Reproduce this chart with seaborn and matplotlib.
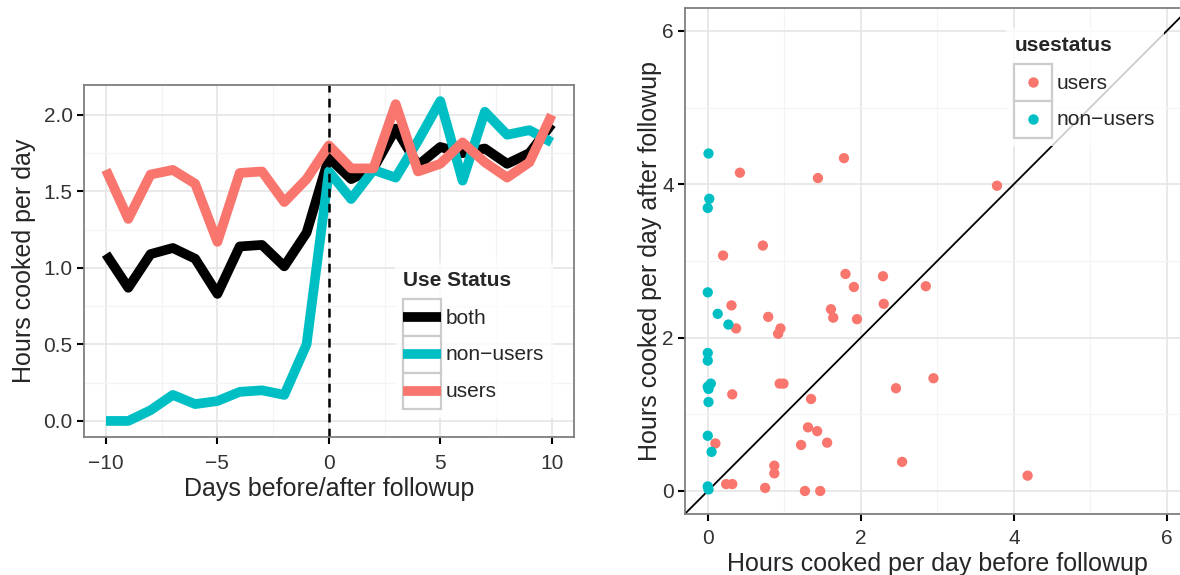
import matplotlib
matplotlib.use('Agg')
import matplotlib.pyplot as plt
import numpy as np
import pandas as pd
import seaborn as sns
from matplotlib.lines import Line2D
from matplotlib.patches import Rectangle
from matplotlib.legend_handler import HandlerLine2D
from matplotlib.ticker import MultipleLocator, FormatStrFormatter

# left panel: mean hours cooked per day around the followup visit
days = [-10, -9, -8, -7, -6, -5, -4, -3, -2, -1, 0, 1, 2, 3, 4, 5, 6, 7, 8, 9, 10]
both = [1.09, 0.87, 1.09, 1.13, 1.06, 0.83, 1.14, 1.15, 1.01, 1.23, 1.72,
        1.58, 1.65, 1.91, 1.67, 1.79, 1.75, 1.78, 1.68, 1.75, 1.94]
non_users = [0.0, 0.0, 0.07, 0.17, 0.11, 0.13, 0.19, 0.20, 0.17, 0.50, 1.63,
             1.45, 1.64, 1.59, 1.83, 2.09, 1.57, 2.02, 1.87, 1.90, 1.82]
users = [1.64, 1.32, 1.61, 1.64, 1.55, 1.17, 1.62, 1.63, 1.43, 1.58, 1.80,
         1.65, 1.65, 2.07, 1.63, 1.68, 1.82, 1.69, 1.59, 1.69, 2.00]
line_groups = ['both', 'non-users', 'users']
line_labels = ['both', 'non\u2212users', 'users']

# right panel: per household, before vs after followup
users_before = [0.42, 1.44, 1.78, 0.20, 0.72, 1.80, 2.29, 1.91, 0.31, 0.79,
                1.61, 1.64, 1.95, 2.30, 0.37, 0.95, 0.92, 0.94, 0.99, 0.32,
                1.35, 2.46, 1.31, 1.43, 1.22, 1.56, 0.10, 0.87, 0.87, 2.54,
                0.24, 0.32, 0.75, 1.27, 1.47, 3.78, 2.85, 2.95, 4.18]
users_after = [4.15, 4.08, 4.34, 3.07, 3.20, 2.83, 2.80, 2.66, 2.42, 2.27,
               2.37, 2.26, 2.24, 2.44, 2.12, 2.12, 2.05, 1.40, 1.40, 1.26,
               1.20, 1.34, 0.83, 0.78, 0.60, 0.63, 0.62, 0.33, 0.23, 0.38,
               0.09, 0.09, 0.04, 0.0, 0.0, 3.98, 2.67, 1.47, 0.20]
nonusers_before = [0.01, 0.02, 0.0, 0.0, 0.13, 0.27, 0.0, 0.0, 0.04, 0.0,
                   0.01, 0.01, 0.0, 0.05, 0.0, 0.01]
nonusers_after = [4.40, 3.81, 3.69, 2.59, 2.31, 2.17, 1.80, 1.70, 1.40, 1.36,
                  1.33, 1.16, 0.72, 0.51, 0.06, 0.02]

RED = '#F8766D'
CYAN = '#00BFC4'
line_colors = {'both': 'black', 'non-users': CYAN, 'users': RED}

sns.set_style('white')
plt.rcParams['font.family'] = ['Liberation Sans', 'DejaVu Sans']
plt.rcParams['axes.unicode_minus'] = True


class KeyBox(HandlerLine2D):
    # ggplot style legend key: grey bordered square behind the glyph
    def create_artists(self, legend, orig_handle, xdescent, ydescent,
                       width, height, fontsize, trans):
        arts = super().create_artists(legend, orig_handle, xdescent, ydescent,
                                      width, height, fontsize, trans)
        mid = height / 2 - ydescent
        for a in arts:
            a.set_ydata(np.full_like(np.asarray(a.get_xdata(), float), mid))
        box = Rectangle((-xdescent, -ydescent), width, height, fc='white',
                        ec='#CCCCCC', lw=1.6, transform=trans)
        return [box] + list(arts)


def style_axes(ax, xpad, ypad):
    for sp in ax.spines.values():
        sp.set_color('#7F7F7F')
        sp.set_linewidth(1.3)
        sp.set_visible(True)
    ax.grid(which='major', color='#E5E5E5', lw=1.2)
    ax.grid(which='minor', color='#F4F4F4', lw=0.9)
    ax.set_axisbelow(True)
    ax.tick_params(which='major', bottom=True, left=True, direction='out',
                   length=5, width=1.5, color='black', labelsize=15,
                   labelcolor='#333333')
    ax.tick_params(axis='x', pad=xpad)
    ax.tick_params(axis='y', pad=ypad)
    ax.tick_params(which='minor', bottom=False, left=False, length=0)


def make_legend(ax, handles, labels, title, x, y):
    leg = ax.legend(handles, labels, title=title, loc='upper left',
                    bbox_to_anchor=(x / W, 1 - y / H),
                    bbox_transform=fig.transFigure, frameon=True, fontsize=15,
                    title_fontproperties={'weight': 'bold', 'size': 15},
                    handlelength=1.8, handleheight=2.35, labelspacing=0.0,
                    handletextpad=0.25, borderpad=0.4, borderaxespad=0,
                    fancybox=False, handler_map={Line2D: KeyBox()})
    leg.get_frame().set_edgecolor('none')
    leg.get_frame().set_facecolor('white')
    leg._legend_box.align = 'left'
    leg._legend_box.sep = 6  # gap between title and keys
    leg.set_zorder(5)
    return leg


fig = plt.figure(figsize=(11.8, 5.75), dpi=100)
W, H = 1180, 575

# ---- left panel
ax1 = fig.add_axes([83.7 / W, (H - 437) / H, 490.3 / W, 352 / H])
df_lines = pd.DataFrame({
    'day': days * 3,
    'hours': both + non_users + users,
    'status': [g for g in line_groups for _ in days],
})
sns.lineplot(data=df_lines, x='day', y='hours', hue='status',
             hue_order=line_groups, palette=line_colors, lw=7,
             legend=False, ax=ax1, solid_capstyle='butt', solid_joinstyle='round')
ax1.axvline(0, color='black', lw=1.8, ls=(0, (3.5, 2.5)))
ax1.set_xlim(-11, 11)
ax1.set_ylim(-0.105, 2.195)
ax1.xaxis.set_major_locator(MultipleLocator(5))
ax1.xaxis.set_minor_locator(MultipleLocator(2.5))
ax1.yaxis.set_major_locator(MultipleLocator(0.5))
ax1.yaxis.set_minor_locator(MultipleLocator(0.25))
ax1.yaxis.set_major_formatter(FormatStrFormatter('%.1f'))
style_axes(ax1, xpad=7, ypad=3)
ax1.set_xlabel('Days before/after followup', fontsize=18, labelpad=3)
ax1.set_ylabel('Hours cooked per day', fontsize=18, labelpad=5)

handles = [Line2D([], [], color=line_colors[g], lw=7, solid_capstyle='butt')
           for g in line_groups]
make_legend(ax1, handles, line_labels, 'Use Status', 395, 263)

# ---- right panel
ax2 = fig.add_axes([684.8 / W, (H - 514) / H, 505 / W, 506.2 / H])
df_pts = pd.DataFrame({
    'before': users_before + nonusers_before,
    'after': users_after + nonusers_after,
    'usestatus': ['users'] * len(users_before) + ['non-users'] * len(nonusers_before),
})
ax2.axline((0, 0), slope=1, color='black', lw=1.3, zorder=2)
sns.scatterplot(data=df_pts, x='before', y='after', hue='usestatus',
                hue_order=['users', 'non-users'],
                palette={'users': RED, 'non-users': CYAN},
                s=55, linewidth=0, legend=False, ax=ax2, zorder=3)
ax2.set_xlim(-0.3, 6.3)
ax2.set_ylim(-0.3, 6.3)
for axis in (ax2.xaxis, ax2.yaxis):
    axis.set_major_locator(MultipleLocator(2))
    axis.set_minor_locator(MultipleLocator(1))
style_axes(ax2, xpad=6, ypad=3)
ax2.set_xlabel('Hours cooked per day before followup', fontsize=18, labelpad=3)
ax2.set_ylabel('Hours cooked per day after followup', fontsize=18, labelpad=0)

pt_handles = [Line2D([], [], ls='none', marker='o', ms=7.5, mec='none', mfc=c)
              for c in (RED, CYAN)]
make_legend(ax2, pt_handles, ['users', 'non\u2212users'], 'usestatus', 1006, 28)

fig.savefig('out.png', dpi=100)
